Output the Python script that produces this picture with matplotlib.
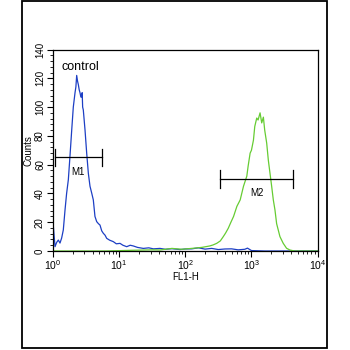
import numpy as np
import matplotlib.pyplot as plt
from matplotlib.patches import Rectangle
from matplotlib.ticker import MultipleLocator, LogLocator, NullFormatter

plt.rcParams['font.family'] = ['Liberation Sans', 'DejaVu Sans']

# control histogram (blue): channel position in decades, counts
ctrl_dec = [0.0, 0.01, 0.035, 0.06, 0.085, 0.11, 0.135, 0.16, 0.186, 0.21, 0.236,
            0.261, 0.287, 0.311, 0.337, 0.35, 0.362, 0.375, 0.387, 0.40, 0.412,
            0.425, 0.437, 0.445, 0.452, 0.462, 0.488, 0.513, 0.538, 0.563, 0.59,
            0.613, 0.638, 0.664, 0.69, 0.714, 0.74, 0.764, 0.79, 0.815, 0.86,
            0.915, 0.96, 1.016, 1.06, 1.117, 1.17, 1.217, 1.28, 1.368, 1.45,
            1.52, 1.62, 1.7, 1.8, 1.92, 2.0, 2.1, 2.2, 2.3, 2.4, 2.5, 2.6, 2.7,
            2.8, 2.9, 2.94, 3.0, 3.2, 3.5, 4.0]
ctrl_cnt = [0, 17, 3, 6, 7.6, 5.5, 9, 14.6, 28.5, 40, 49.5,
            66, 84, 100, 110, 114, 122, 118, 115.6, 112, 110,
            107, 107, 110, 100, 98, 84, 68, 54, 45, 40,
            35.5, 24, 20.4, 19, 18, 14, 12.3, 11, 8.8, 7.5,
            6.5, 5, 5.3, 4, 3, 4, 3.5, 2.5, 1.8, 2.2,
            1.5, 1.8, 1.2, 1.6, 1, 1.4, 1.5, 2.2, 1.3, 1.8, 1, 1.4, 1.5,
            0.8, 1.2, 2, 0.3, 0, 0, 0]

# stained sample histogram (green)
samp_dec = [0.0, 0.8, 1.2, 1.5, 1.62, 1.8, 1.95, 2.12, 2.25, 2.37, 2.42, 2.475,
            2.53, 2.575, 2.61, 2.65, 2.69, 2.73, 2.78, 2.83, 2.88, 2.93, 2.95,
            2.98, 3.0, 3.03, 3.05, 3.08, 3.10, 3.13, 3.155, 3.18, 3.2, 3.23,
            3.255, 3.28, 3.305, 3.33, 3.355, 3.38, 3.43, 3.48, 3.53, 3.58, 3.65, 4.0]
samp_cnt = [0, 0, 0.5, 0.8, 0.7, 1.8, 1.2, 1.9, 2.5, 3.5, 4.2, 5.3,
            7, 10, 12.5, 15.8, 20, 24, 31, 35.5, 45, 52, 59,
            68, 70, 77, 86.5, 92.4, 91, 96, 89, 93, 84, 75,
            63, 54, 45, 35.5, 28.5, 19, 10, 5.3, 1.9, 0.7, 0, 0]

# marker gates: (left, right, height, label)
gates = [(1.08, 5.5, 65, 'M1'), (340, 4270, 50, 'M2')]

fig = plt.figure(figsize=(3.5, 3.5), dpi=100)
fig.add_artist(Rectangle((22 / 350, 2 / 350), 305 / 350, 347 / 350,
                         transform=fig.transFigure, fill=False,
                         edgecolor='black', linewidth=1.3))

ax = fig.add_axes([52.7 / 350, 1 - 251 / 350, 265 / 350, 201.5 / 350])
ax.plot(10 ** np.array(ctrl_dec), ctrl_cnt, color='#1d3fc4', lw=0.9)
ax.plot(10 ** np.array(samp_dec), samp_cnt, color='#66cc33', lw=0.9)

for lo, hi, h, name in gates:
    ax.plot([lo, hi], [h, h], color='black', lw=0.9)
    ax.plot([lo, lo], [h - 6, h + 6], color='black', lw=0.9)
    ax.plot([hi, hi], [h - 6, h + 6], color='black', lw=0.9)
    ax.text(np.sqrt(lo * hi), h - 10, name, ha='center', va='center', fontsize=7)

ax.text(1.35, 128, 'control', fontsize=9, ha='left', va='center')

ax.set_xscale('log')
ax.set_xlim(1, 1e4)
ax.set_ylim(0, 140)
ax.yaxis.set_major_locator(MultipleLocator(20))
ax.yaxis.set_minor_locator(MultipleLocator(4))
ax.xaxis.set_major_locator(LogLocator(base=10, numticks=10))
ax.xaxis.set_minor_locator(LogLocator(base=10, subs=np.arange(2, 10), numticks=10))
ax.xaxis.set_minor_formatter(NullFormatter())
ax.tick_params(which='major', direction='out', length=4, width=0.8, pad=1.5)
ax.tick_params(axis='x', which='major', labelsize=7.5)
ax.tick_params(axis='y', which='major', labelsize=7)
ax.tick_params(which='minor', direction='out', length=2, width=0.6)
for lbl in ax.get_yticklabels():
    lbl.set_rotation(90)
    lbl.set_va('center')
for s in ax.spines.values():
    s.set_linewidth(0.9)

ax.set_xlabel('FL1-H', fontsize=7, labelpad=0)
ax.set_ylabel('Counts', fontsize=7, labelpad=1)

fig.savefig('out.png', dpi=100, facecolor='white')
